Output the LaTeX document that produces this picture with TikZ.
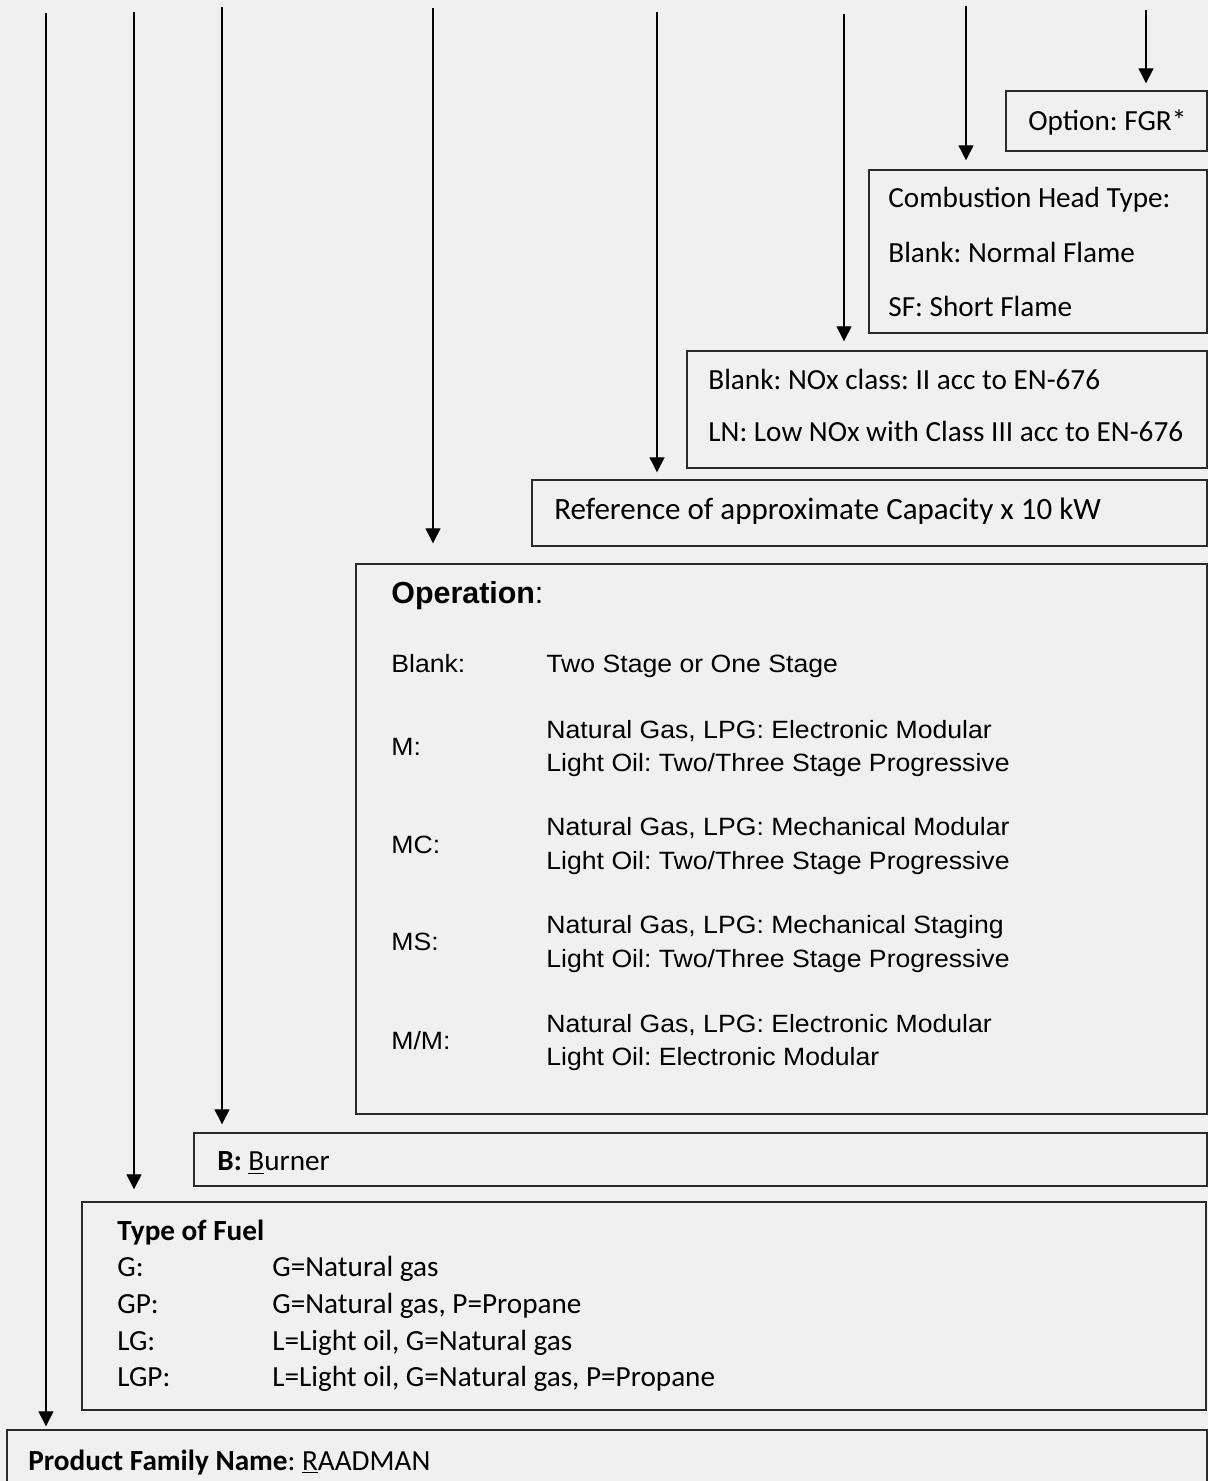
\documentclass[tikz,border=0pt]{standalone}
\usepackage{fontspec}
\setmainfont{Carlito}
\newfontfamily\arialfont[FakeStretch=1.065]{Liberation Sans}
\newfontfamily\arialtitle{Liberation Sans}
\usepackage{tikz}
\usetikzlibrary{arrows.meta,fit}

\definecolor{bgcol}{HTML}{F0F0F0}
\definecolor{linecol}{HTML}{2B2B2B}

\tikzset{
  box/.style={draw=linecol, line width=0.7pt, inner sep=0pt},
  arr/.style={draw=black, line width=0.65pt, -{Triangle[width=7.5pt,length=7.5pt]}},
  txt/.style={anchor=base west, inner sep=0pt, font=\frenchspacing\fontsize{14.6}{17}\selectfont},
  atxt/.style={anchor=base west, inner sep=0pt, font=\frenchspacing\arialfont\fontsize{12.5}{15}\selectfont},
}

\begin{document}
\begin{tikzpicture}[x=0.5pt, y=-0.5pt]
            \useasboundingbox (0,0) rectangle (1208,1481);
            \fill[bgcol] (0,0) rectangle (1208,1481); % page
            \clip (0,0) rectangle (1208,1481);
            % boxes
            \node[box, fit={(1006,91) (1207,151)}] (fgr) {}; % FGR option
            \node[box, fit={(869,170) (1207,333)}] (head) {}; % head type
            \node[box, fit={(687,351) (1207,468)}] (nox) {}; % NOx class
            \node[box, fit={(532,480) (1207,546)}] (cap) {}; % capacity
            \node[box, fit={(356,564) (1207,1114)}] (oper) {}; % operation
            \node[box, fit={(194,1133) (1207,1186)}] (burner) {}; % burner
            \node[box, fit={(82,1202) (1206,1410)}] (fuel) {}; % fuel
            \node[box, fit={(7,1430) (1207,1500)}] (family) {}; % family name
            % texts
            \node[txt] (fgrtxt) at (1028,131) {Option: FGR*};
            \node[txt] (headA) at (888,208) {Combustion Head Type:};
            \node[txt] (headB) at (888,263) {Blank: Normal Flame};
            \node[txt] (headC) at (888,317) {SF: Short Flame};
            \node[txt] (noxA) at (708,389) {Blank: NOx class: II acc to EN-676};
            \node[txt] (noxB) at (708,441.5) {LN: Low NOx with Class III acc to EN-676};
            \node[txt, font=\frenchspacing\fontsize{15.5}{18}\selectfont] (captxt) at (554,519) {Reference of approximate Capacity x 10 kW};
            \node[atxt, font=\frenchspacing\arialtitle\fontsize{15.2}{18}\selectfont] (opertitle) at (391,603) {\textbf{Operation}:};
            \node[atxt] (opblank) at (391,672) {Blank:};
            \node[atxt] (opblankd) at (546,672) {Two Stage or One Stage};
            \node[atxt] (opm) at (391,755) {M:};
            \node[atxt] (opmA) at (546,738.5) {Natural Gas, LPG: Electronic Modular};
            \node[atxt] (opmB) at (546,771) {Light Oil: Two/Three Stage Progressive};
            \node[atxt] (opmc) at (391,853) {MC:};
            \node[atxt] (opmcA) at (546,835) {Natural Gas, LPG: Mechanical Modular};
            \node[atxt] (opmcB) at (546,869) {Light Oil: Two/Three Stage Progressive};
            \node[atxt] (opms) at (391,950) {MS:};
            \node[atxt] (opmsA) at (546,933.5) {Natural Gas, LPG: Mechanical Staging};
            \node[atxt] (opmsB) at (546,967) {Light Oil: Two/Three Stage Progressive};
            \node[atxt] (opmm) at (391,1049) {M/M:};
            \node[atxt] (opmmA) at (546,1032) {Natural Gas, LPG: Electronic Modular};
            \node[atxt] (opmmB) at (546,1065) {Light Oil: Electronic Modular};
            \node[txt] (burnertxt) at (217,1170.5) {\textbf{B:} \underline{B}urner};
            \node[txt] (fueltitle) at (117,1240) {\textbf{Type of Fuel}};
            \node[txt] (fuelG) at (117,1276) {G:};
            \node[txt] (fuelGd) at (272,1276) {G=Natural gas};
            \node[txt] (fuelGP) at (117,1313) {GP:};
            \node[txt] (fuelGPd) at (272,1313) {G=Natural gas, P=Propane};
            \node[txt] (fuelLG) at (117,1350) {LG:};
            \node[txt] (fuelLGd) at (272,1350) {L=Light oil, G=Natural gas};
            \node[txt] (fuelLGP) at (117,1386) {LGP:};
            \node[txt] (fuelLGPd) at (272,1386) {L=Light oil, G=Natural gas, P=Propane};
            \node[txt] (familytxt) at (28,1470) {\textbf{Product Family Name}: \underline{R}AADMAN};
            % arrow tops
            \coordinate (t1) at (46,13);
            \coordinate (t2) at (134,12);
            \coordinate (t3) at (222,7);
            \coordinate (t4) at (433,8);
            \coordinate (t5) at (657,12);
            \coordinate (t6) at (844,14);
            \coordinate (t7) at (966,6);
            \coordinate (t8) at (1146,10);
            % arrows
            \draw[arr, shorten >=1.5pt] (t1) -- (t1 |- family.north); % family
            \draw[arr, shorten >=6pt] (t2) -- (t2 |- fuel.north); % fuel
            \draw[arr, shorten >=4pt] (t3) -- (t3 |- burner.north); % burner
            \draw[arr, shorten >=10pt] (t4) -- (t4 |- oper.north); % operation
            \draw[arr, shorten >=3.5pt] (t5) -- (t5 |- cap.north); % capacity
            \draw[arr, shorten >=4.5pt] (t6) -- (t6 |- nox.north); % NOx
            \draw[arr, shorten >=4.5pt] (t7) -- (t7 |- head.north); % head
            \draw[arr, shorten >=3.5pt] (t8) -- (t8 |- fgr.north); % FGR
        \end{tikzpicture}
\end{document}
